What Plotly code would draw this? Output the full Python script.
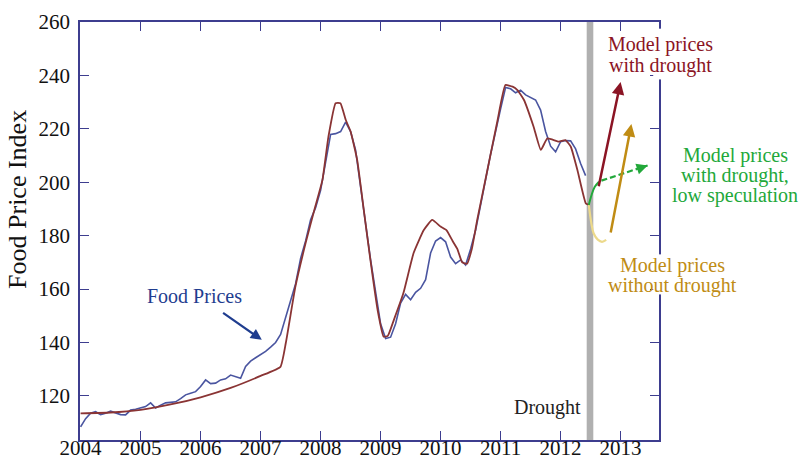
import plotly.graph_objects as go

# Food price index, monthly from January 2004
price_start = 2004.0
food_prices = [
    108.4, 111.5, 113.5, 114.1, 113.0, 113.5, 114.3, 113.6, 113.0, 112.9, 114.7, 115.0,
    115.5, 116.0, 117.4, 115.5, 116.5, 117.4, 117.6, 117.8, 119.0, 120.4, 121.0, 121.6,
    123.5, 126.0, 124.6, 124.8, 126.0, 126.4, 127.8, 127.2, 126.6, 131.0, 133.0, 134.3,
    135.5, 136.7, 138.3, 140.0, 143.0, 149.5, 155.5, 162.0, 171.5, 178.0, 186.0, 190.5,
    197.0, 207.2, 217.9, 218.2, 219.0, 222.5, 219.0, 212.0, 199.0, 184.5, 170.9, 158.5,
    147.0, 141.5, 142.0, 147.0, 154.8, 158.0, 156.0, 158.8, 160.3, 163.5, 173.5, 178.0,
    179.3, 177.7, 172.0, 169.5, 170.9, 169.0, 175.0, 182.0, 191.0, 201.0, 210.5, 219.5,
    227.5, 235.5, 235.0, 233.5, 234.5, 232.7, 231.8, 230.8, 227.0, 219.0, 213.5, 211.4,
    215.2, 215.6, 215.5, 212.5, 207.0, 202.5,
]
price_years = [price_start + i / 12 for i in range(len(food_prices))]

# Model (speculator + ethanol) price simulation
model_years = [
    2004.00, 2004.50, 2005.00, 2005.50, 2006.00, 2006.50, 2007.00, 2007.33, 2007.42,
    2007.58, 2007.75, 2007.90, 2008.03, 2008.13, 2008.25, 2008.33, 2008.42, 2008.50,
    2008.61, 2008.72, 2008.83, 2008.95, 2009.05, 2009.12, 2009.22, 2009.38, 2009.55,
    2009.72, 2009.86, 2010.00, 2010.10, 2010.20, 2010.28, 2010.36, 2010.44, 2010.52,
    2010.61, 2010.78, 2010.95, 2011.08, 2011.20, 2011.28, 2011.39, 2011.55, 2011.67,
    2011.78, 2011.97, 2012.08, 2012.17, 2012.28, 2012.42, 2012.47,
]
model_values = [
    113.5, 113.8, 114.8, 116.8, 119.5, 123.0, 127.5, 130.9, 139.8,
    160.9, 177.2, 190.0, 200.8, 217.0, 229.6, 229.6, 223.3, 219.0,
    208.3, 189.6, 170.9, 152.2, 142.2, 142.5, 148.4, 158.5, 173.5,
    182.1, 185.9, 183.4, 182.0, 178.0, 175.0, 170.0, 169.5, 175.0,
    185.9, 204.6, 223.3, 236.4, 235.8, 234.5, 230.8, 220.8, 212.1,
    216.4, 215.2, 215.8, 213.3, 204.6, 192.1, 191.5,
]

# Drought of summer 2012
drought_span = [2012.435, 2012.545]

# Scenario curves leaving the model after the drought
low_spec_years = [2012.47, 2012.52, 2012.57, 2012.64]
low_spec_values = [191.5, 195.5, 198.3, 200.2]
no_drought_years = [2012.47, 2012.51, 2012.55, 2012.62, 2012.69, 2012.76]
no_drought_values = [191.5, 185.0, 180.9, 178.5, 177.7, 178.4]

# Scenario arrows: [tail_x, tail_y, tip_x, tip_y]
arrow_with_drought = [2012.63, 197.9, 2013.00, 237.5]
arrow_no_drought = [2012.83, 180.6, 2013.18, 221.8]
arrow_low_spec = [2012.68, 200.6, 2013.45, 206.3]
arrow_food = [2006.35, 151.5, 2007.02, 141.0]

year_ticks = list(range(2004, 2014))
value_ticks = list(range(120, 261, 20))
x_range = [2003.99, 2013.64]
y_range = [103.5, 260]

AXIS = "#3d3d8f"
BLUE = "#4a55a0"
BROWN = "#8a3434"
RED = "#8b1424"
GREEN = "#22a83a"
GOLD = "#c08c14"
SERIF = "Liberation Serif"


def to_paper(year):
    return (year - x_range[0]) / (x_range[1] - x_range[0])


fig = go.Figure()

fig.add_shape(type="rect", xref="x", yref="paper",
              x0=drought_span[0], x1=drought_span[1], y0=0, y1=1,
              fillcolor="#b0b0b0", line_width=0, layer="below")

# the right-hand frame is interrupted where the scenario labels sit
for lo, hi in [(238.5, 257.5), (158.0, 173.0)]:
    fig.add_shape(type="rect", xref="paper", yref="y", x0=0.99, x1=1.01, y0=lo, y1=hi,
                  fillcolor="white", line_width=0, layer="above")

fig.add_trace(go.Scatter(x=price_years, y=food_prices, mode="lines",
                         line=dict(color=BLUE, width=1.6), showlegend=False))
fig.add_trace(go.Scatter(x=model_years, y=model_values, mode="lines",
                         line=dict(color=BROWN, width=1.8, shape="spline", smoothing=0.4),
                         showlegend=False))
fig.add_trace(go.Scatter(x=no_drought_years, y=no_drought_values, mode="lines",
                         line=dict(color="#ecd98a", width=2.2, shape="spline"),
                         showlegend=False))
fig.add_trace(go.Scatter(x=low_spec_years, y=low_spec_values, mode="lines",
                         line=dict(color=GREEN, width=2, shape="spline"),
                         showlegend=False))
fig.add_trace(go.Scatter(x=[arrow_low_spec[0], arrow_low_spec[2]],
                         y=[arrow_low_spec[1], arrow_low_spec[3]], mode="lines",
                         line=dict(color=GREEN, width=2.2, dash="6px,3px"),
                         showlegend=False))


def arrow(spec, color, width=2.5):
    fig.add_annotation(x=spec[2], y=spec[3], ax=spec[0], ay=spec[1],
                       xref="x", yref="y", axref="x", ayref="y",
                       showarrow=True, arrowhead=2, arrowsize=1,
                       arrowwidth=width, arrowcolor=color, text="", standoff=0)


arrow(arrow_with_drought, RED)
arrow(arrow_no_drought, GOLD)
arrow(arrow_food, "#1f3d8f", 2.2)
# arrowhead only for the dashed low-speculation line
fig.add_annotation(x=arrow_low_spec[2], y=arrow_low_spec[3],
                   ax=arrow_low_spec[2] - 0.08, ay=arrow_low_spec[3] - 0.6,
                   xref="x", yref="y", axref="x", ayref="y",
                   showarrow=True, arrowhead=2, arrowsize=1, arrowwidth=2.2,
                   arrowcolor=GREEN, text="", standoff=0)


def label(lines, x, ys, color):
    for line, y in zip(lines, ys):
        fig.add_annotation(x=to_paper(x), y=y, xref="paper", yref="y", text=line,
                           showarrow=False, xanchor="center", yanchor="middle",
                           font=dict(family=SERIF, size=20, color=color))


label(["Food Prices"], 2005.89, [157.6], "#1f3d8f")
label(["Model prices", "with drought"], 2013.66, [251.4, 243.9], RED)
label(["Model prices", "with drought,", "low speculation"], 2014.91,
      [210.2, 202.7, 195.2], GREEN)
label(["Model prices", "without drought"], 2013.86, [169.0, 161.5], GOLD)

fig.add_annotation(x=2012.37, y=115.5, xref="x", yref="y", text="Drought",
                   showarrow=False, xanchor="right", yanchor="middle",
                   font=dict(family=SERIF, size=20, color="#222222"))

fig.add_annotation(x=-0.107, y=193.4, xref="paper", yref="y", text="Food Price Index",
                   showarrow=False, textangle=-90, xanchor="center", yanchor="middle",
                   font=dict(family=SERIF, size=26, color="#111111"))

axis_common = dict(showline=True, linecolor=AXIS, linewidth=1.5, mirror="ticks",
                   ticks="inside", ticklen=9, tickwidth=1.3, tickcolor=AXIS,
                   showgrid=False, zeroline=False, automargin=False,
                   tickfont=dict(family=SERIF, size=21, color="#111111"))

fig.update_xaxes(range=x_range, tickvals=year_ticks, ticklabelstandoff=-12,
                 ticktext=[str(y) for y in year_ticks], **axis_common)
fig.update_yaxes(range=y_range, tickvals=value_ticks, ticklabelstandoff=4,
                 **axis_common)

fig.update_layout(width=803, height=462, margin=dict(l=80, r=144, t=22, b=22),
                  paper_bgcolor="white", plot_bgcolor="white", showlegend=False)

fig.write_html("out.html")
